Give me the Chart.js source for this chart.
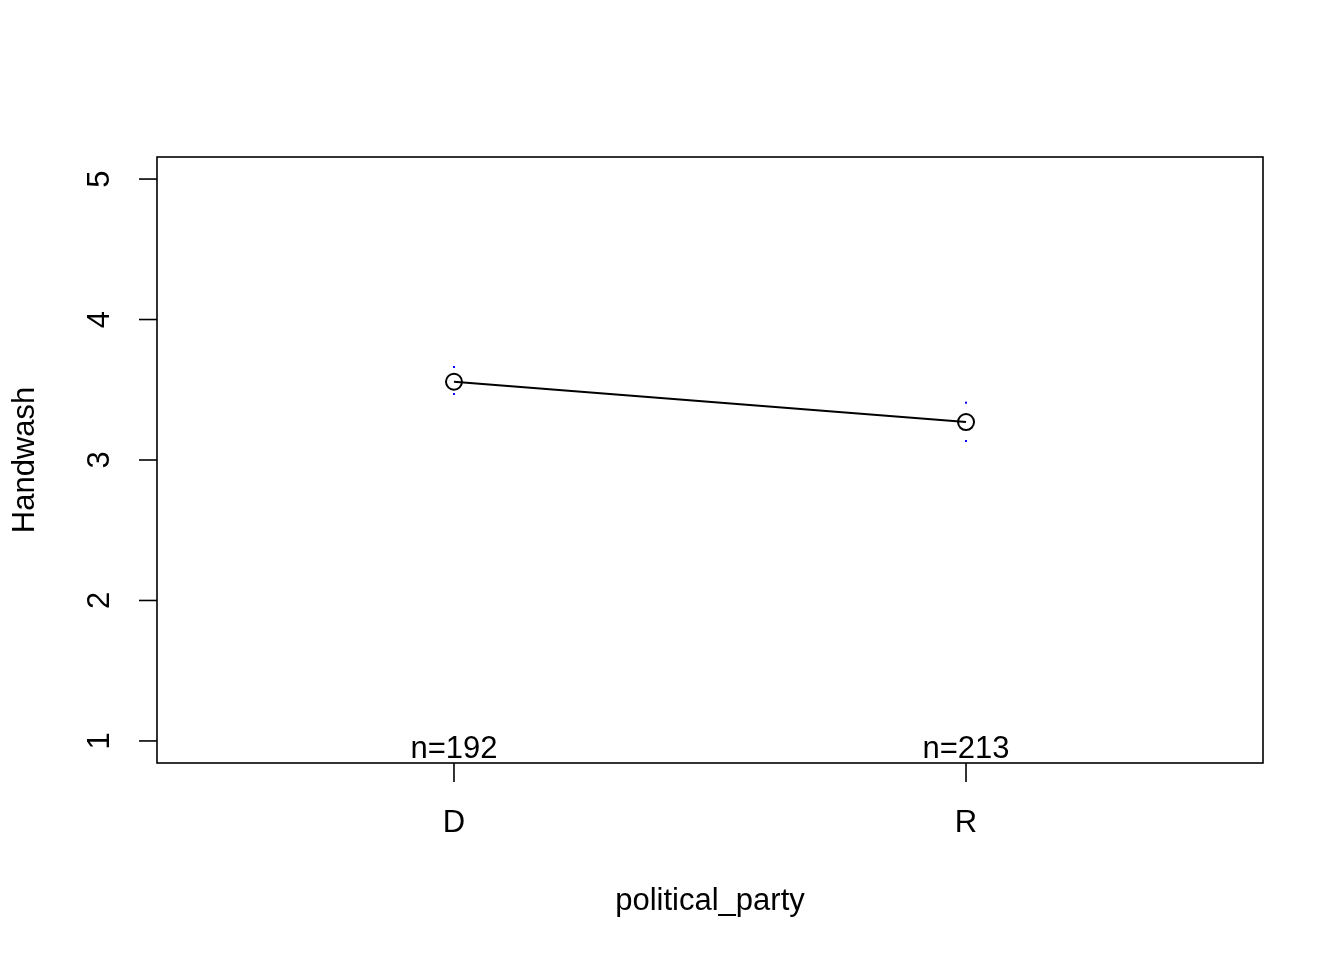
<!DOCTYPE html>
<html>
<head>
<meta charset="utf-8">
<script src="https://cdn.jsdelivr.net/npm/chart.js@4.4.0/dist/chart.umd.min.js"></script>
<style>
  html, body { margin: 0; padding: 0; background: #fff; }
  #wrap { width: 1344px; height: 960px; }
</style>
</head>
<body>
<div id="wrap"><canvas id="chart" width="1344" height="960"></canvas></div>
<script>
// Data
const categories = ['D', 'R'];
const positions = [1, 2];
const means = [3.557, 3.270];
const upper = [3.662, 3.408];
const lower = [3.470, 3.135];
const counts = [192, 213];
const yTicks = [1, 2, 3, 4, 5];

const FONT = '"Liberation Sans", Arial, Helvetica, sans-serif';
const FS = 31;

// R-style axes, box, labels and CI dots
const rPlot = {
  id: 'rPlot',
  afterDatasetsDraw(chart) {
    const ctx = chart.ctx;
    const a = chart.chartArea;
    const x = chart.scales.x;
    const y = chart.scales.y;
    ctx.save();
    ctx.strokeStyle = '#000';
    ctx.fillStyle = '#000';
    ctx.lineWidth = 1.6;

    // box
    ctx.strokeRect(a.left, a.top, a.right - a.left, a.bottom - a.top);

    // y axis ticks and labels
    ctx.font = FS + 'px ' + FONT;
    ctx.textAlign = 'center';
    ctx.textBaseline = 'middle';
    yTicks.forEach(v => {
      const py = y.getPixelForValue(v);
      ctx.beginPath();
      ctx.moveTo(a.left, py);
      ctx.lineTo(a.left - 18, py);
      ctx.stroke();
      ctx.save();
      ctx.translate(a.left - 57, py);
      ctx.rotate(-Math.PI / 2);
      ctx.fillText(String(v), 0, 0);
      ctx.restore();
    });

    // x axis ticks and labels
    positions.forEach((p, i) => {
      const px = x.getPixelForValue(p);
      ctx.beginPath();
      ctx.moveTo(px, a.bottom);
      ctx.lineTo(px, a.bottom + 19);
      ctx.stroke();
      ctx.fillText(categories[i], px, a.bottom + 60);
      // n= labels sit just above the bottom edge
      ctx.textBaseline = 'alphabetic';
      ctx.fillText('n=' + counts[i], px, a.bottom - 5);
      ctx.textBaseline = 'middle';
    });

    // axis titles
    ctx.fillText('political_party', (a.left + a.right) / 2, 901);
    ctx.save();
    ctx.translate(25, (a.top + a.bottom) / 2);
    ctx.rotate(-Math.PI / 2);
    ctx.fillText('Handwash', 0, 0);
    ctx.restore();

    // confidence interval ends (blue dots)
    ctx.fillStyle = '#0000ff';
    positions.forEach((p, i) => {
      const px = x.getPixelForValue(p);
      [upper[i], lower[i]].forEach(v => {
        const py = y.getPixelForValue(v);
        ctx.fillRect(px - 1, py - 1, 2, 2);
      });
    });
    ctx.restore();
  }
};

new Chart(document.getElementById('chart'), {
  type: 'line',
  data: {
    datasets: [{
      data: positions.map((p, i) => ({ x: p, y: means[i] })),
      borderColor: '#000',
      borderWidth: 2,
      pointRadius: 8,
      pointBorderWidth: 2,
      pointBorderColor: '#000',
      pointBackgroundColor: 'rgba(0,0,0,0)',
      tension: 0
    }]
  },
  options: {
    responsive: false,
    animation: false,
    layout: { padding: { top: 157, right: 81, left: 0, bottom: 0 } },
    plugins: { legend: { display: false }, tooltip: { enabled: false } },
    scales: {
      x: {
        type: 'linear',
        min: 0.42, max: 2.58,
        ticks: { display: false },
        grid: { display: false },
        border: { display: false },
        afterFit(s) { s.height = 197; }
      },
      y: {
        min: 0.843, max: 5.157,
        ticks: { display: false },
        grid: { display: false },
        border: { display: false },
        afterFit(s) { s.width = 157; }
      }
    }
  },
  plugins: [rPlot]
});
</script>
</body>
</html>
